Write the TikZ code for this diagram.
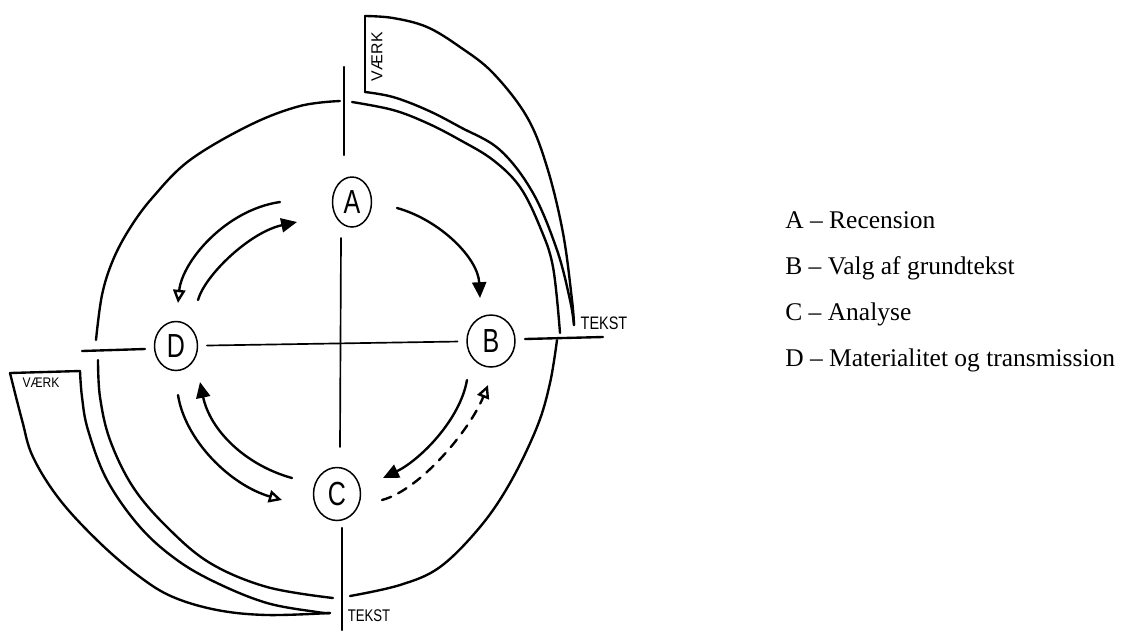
\documentclass[tikz,border=0pt]{standalone}
\usepackage{fontspec}
\setmainfont{Liberation Serif}
\newfontfamily\handfont{Liberation Sans}
\usetikzlibrary{shapes.geometric,arrows.meta}
\newcommand{\handletter}[1]{\scalebox{0.75}[1]{\handfont\fontsize{19}{19}\selectfont #1}}
\begin{document}
\begin{tikzpicture}[x=0.02cm,y=-0.02cm,
  outline/.style={line width=1.35pt, line cap=round, line join=round},
  axisline/.style={line width=0.95pt, line cap=round},
  hnode/.style={ellipse, draw, line width=0.85pt, inner sep=0pt},
  arr/.style={line width=1.35pt, line cap=round},
  headF/.style={-{Triangle[length=9pt,width=8pt]}},
  headO/.style={-{Triangle[open,length=7.5pt,width=7pt,fill=white]}},
  handlabel/.style={inner sep=0pt, font=\handfont},
  legend/.style={anchor=base west, inner sep=0pt, font=\fontsize{14.5}{16}\selectfont}]
\useasboundingbox (0,0) rectangle (1133,630);

% nodes
\node[hnode, minimum width=0.78cm, minimum height=1.0cm] (A) at (352,202) {\handletter{A}};
\node[hnode, minimum width=0.96cm, minimum height=1.04cm] (B) at (491,341) {\handletter{B}};
\node[hnode, minimum width=0.94cm, minimum height=1.06cm] (C) at (337,494) {\handletter{C}};
\node[hnode, minimum width=0.86cm, minimum height=0.98cm] (D) at (176,346) {\handletter{D}};

% cross
\draw[axisline, shorten <=5pt, shorten >=5pt] (D) -- (B);
\coordinate (vt) at (341,238);
\coordinate (vb) at (340,447);
\draw[axisline] (vt) -- (vb);

% axis ticks through the outer ring
\coordinate (tt1) at (344,67);  \coordinate (tt2) at (344,155);
\coordinate (tb1) at (342,528); \coordinate (tb2) at (342,630);
\coordinate (tl1) at (82,351);  \coordinate (tl2) at (145,349);
\coordinate (tr1) at (525,339); \coordinate (tr2) at (603,337);
\draw[outline] (tt1) -- (tt2);
\draw[outline] (tb1) -- (tb2);
\draw[outline] (tl1) -- (tl2);
\draw[outline] (tr1) -- (tr2);

% outer ring (four arcs)
\draw[outline] plot[smooth, tension=0.6] coordinates {(96,340) (102,295) (113,260) (130,228) (153,197) (190,160) (250,125) (300,106) (340,101)};
\draw[outline] plot[smooth, tension=0.6] coordinates {(352,102) (393,110) (427,123) (460,140) (493,160) (520,187) (540,227) (553,267) (560,333)};
\draw[outline] plot[smooth, tension=0.6] coordinates {(557,340) (550,383) (537,427) (510,483) (480,527) (440,567) (400,585) (350,596)};
\draw[outline] plot[smooth, tension=0.6] coordinates {(98,360) (100,397) (110,440) (133,487) (167,527) (210,563) (267,587) (333,598)};

% top-right band (VAERK -> TEKST)
\draw[outline] (365,92) -- (365,16);
\draw[outline] plot[smooth, tension=0.6] coordinates {(365,16) (393,18) (427,27) (460,47) (493,73) (527,117) (547,167) (563,233) (572,300) (574,325)};
\draw[outline] plot[smooth, tension=0.6] coordinates {(365,92) (393,97) (427,110) (460,127) (500,150) (533,193) (557,250) (570,300) (574,325)};

% bottom-left band (VAERK -> TEKST)
\draw[outline] (10,373) -- (80,371);
\draw[outline] plot[smooth, tension=0.6] coordinates {(10,373) (22,420) (33,457) (60,500) (100,543) (140,577) (173,597) (217,610) (267,615) (330,613)};
\draw[outline] plot[smooth, tension=0.6] coordinates {(80,371) (82,397) (88,430) (107,480) (140,527) (177,560) (217,583) (267,603) (317,612) (330,613)};

% hand labels
\node[handlabel, rotate=90] (v1) at (377,57) {\fontsize{9}{9}\selectfont V\kern0.3pt Æ\kern0.3pt R\kern0.3pt K};
\node[handlabel] (t1) at (604,323) {\scalebox{0.8}[1]{\fontsize{10.3}{10}\selectfont TEKST}};
\node[handlabel] (v2) at (41,383) {\scalebox{0.87}[1]{\fontsize{7.9}{8}\selectfont VÆRK}};
\node[handlabel] (t2) at (369,616) {\scalebox{0.78}[1]{\fontsize{9.6}{10}\selectfont TEKST}};

% arrows
\coordinate (ab1) at (397,208); \coordinate (ab2) at (480,298);
\draw[arr, headF] (ab1) .. controls (440,220) and (478,258) .. (ab2);

\coordinate (da1) at (198,300); \coordinate (da2) at (297,222);
\draw[arr, headF] (da1) .. controls (205,275) and (250,232) .. (da2);

\coordinate (ad1) at (280,202); \coordinate (ad2) at (178,303);
\draw[arr, headO] (ad1) .. controls (225,210) and (182,262) .. (ad2);

\coordinate (cd1) at (292,478); \coordinate (cd2) at (200,382);
\draw[arr, headF] (cd1) .. controls (245,465) and (210,430) .. (cd2);

\coordinate (dc1) at (178,395); \coordinate (dc2) at (282,500);
\draw[arr, headO] (dc1) .. controls (185,440) and (230,485) .. (dc2);

\coordinate (bc1) at (467,380); \coordinate (bc2) at (383,478);
\draw[arr, headF] (bc1) .. controls (460,420) and (420,460) .. (bc2);

\coordinate (cb1) at (382,500); \coordinate (cb2) at (488,385);
\draw[arr, headO, dash pattern=on 5.5pt off 4.5pt] (cb1) .. controls (420,490) and (470,430) .. (cb2);

% legend
\node[legend] (LA) at (785,228) {A – Recension};
\node[legend] (LB) at (785,274) {B – Valg af grundtekst};
\node[legend] (LC) at (785,320) {C – Analyse};
\node[legend] (LD) at (785,366) {D – Materialitet og transmission};
\end{tikzpicture}
\end{document}
